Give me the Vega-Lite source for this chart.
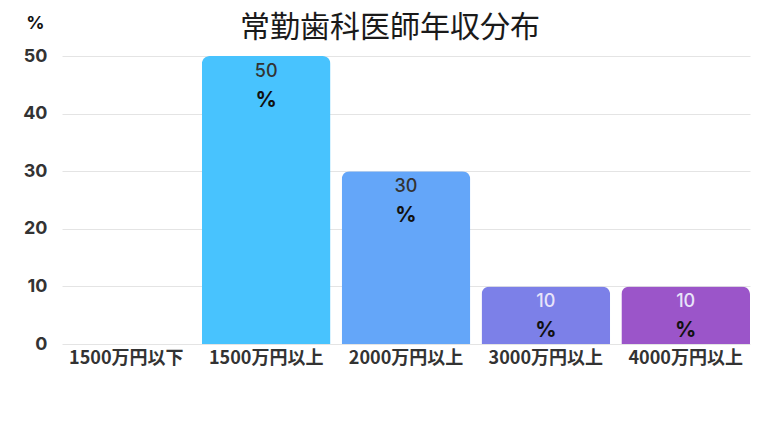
{
  "$schema": "https://vega.github.io/schema/vega-lite/v6.json",
  "autosize": "none",
  "width": 688,
  "height": 288,
  "padding": {"left": 62, "top": 56, "right": 18, "bottom": 88},
  "background": "white",
  "view": {"stroke": null},
  "title": {"text": "常勤歯科医師年収分布", "fontSize": 30, "fontWeight": "normal", "font": "Noto Sans CJK JP", "color": "#1a1a1a", "offset": -29, "dx": -16},
  "data": {"values": [
    {"range": "1500万円以下", "pct": 0, "numColor": "#333"},
    {"range": "1500万円以上", "pct": 50, "numColor": "#333"},
    {"range": "2000万円以上", "pct": 30, "numColor": "#333"},
    {"range": "3000万円以上", "pct": 10, "numColor": "#e8e4fa"},
    {"range": "4000万円以上", "pct": 10, "numColor": "#e8e4fa"}
  ]},
  "encoding": {
    "x": {"field": "range", "type": "nominal", "sort": null, "scale": {"paddingInner": 0.08, "paddingOuter": 0},
      "axis": {"title": null, "labelAngle": 0, "labelFontSize": 18, "labelFontWeight": "bold", "labelColor": "#333", "labelFont": "Noto Sans CJK JP", "domain": false, "ticks": false, "labelPadding": 5}},
    "y": {"field": "pct", "type": "quantitative", "scale": {"domain": [0, 50]},
      "axis": {"title": "%", "titleAngle": 0, "titleAnchor": "end", "titleAlign": "center", "titleX": -27, "titleY": -24, "titleFontSize": 18, "titleFontWeight": "bold", "titleColor": "#111", "titleFont": "Inter",
        "values": [0, 10, 20, 30, 40, 50], "labelFontSize": 18, "labelFontWeight": "bold", "labelColor": "#333", "labelFont": "Inter", "labelPadding": 15,
        "domain": false, "ticks": false, "gridColor": "#e4e4e4"}}
  },
  "layer": [
    {
      "mark": {"type": "bar", "cornerRadiusTopLeft": 8, "cornerRadiusTopRight": 8},
      "encoding": {
        "color": {"field": "range", "type": "nominal", "sort": null, "legend": null,
          "scale": {"domain": ["1500万円以下", "1500万円以上", "2000万円以上", "3000万円以上", "4000万円以上"],
            "range": ["#3fc0ff", "#48c3fe", "#64a6f9", "#7c80e8", "#9b55c9"]}}
      }
    },
    {
      "transform": [{"filter": "datum.pct > 0"}],
      "mark": {"type": "text", "baseline": "middle", "dy": 16, "fontSize": 18, "font": "Inter", "fontWeight": 500},
      "encoding": {"text": {"field": "pct"}, "color": {"field": "numColor", "type": "nominal", "scale": null}}
    },
    {
      "transform": [{"filter": "datum.pct > 0"}],
      "mark": {"type": "text", "baseline": "middle", "dy": 45, "fontSize": 21, "fontWeight": "bold", "font": "Inter", "color": "#111"},
      "encoding": {"text": {"value": "%"}}
    }
  ]
}
